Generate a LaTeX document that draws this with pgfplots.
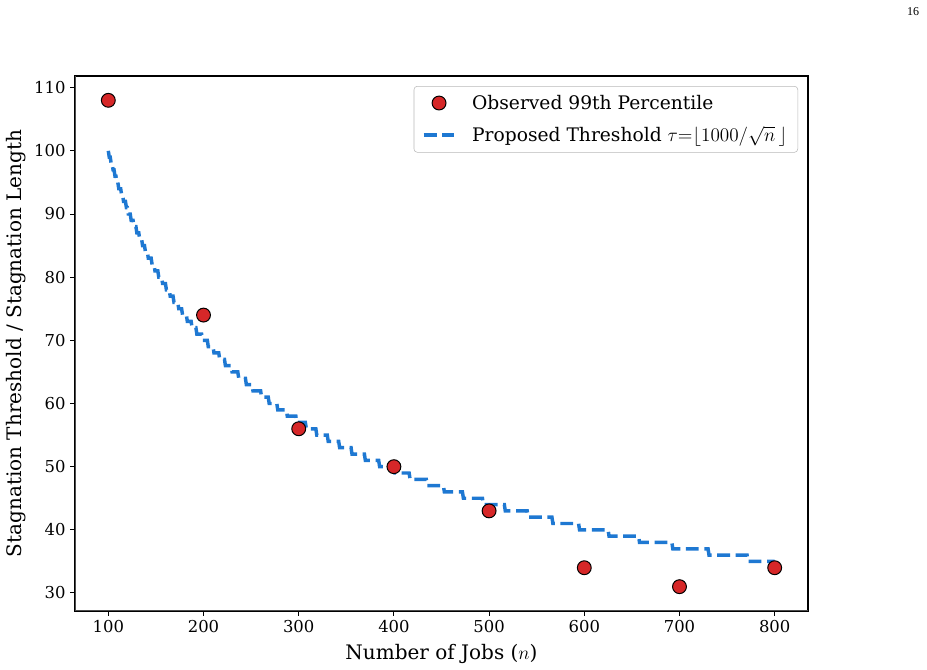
\documentclass[border=0pt]{standalone}
\usepackage{pgfplots}
\pgfplotsset{compat=1.18}
\usepackage{fontspec}
\setmainfont{DejaVu Serif}
\newfontfamily\pagefont{Liberation Serif}
\definecolor{ptred}{HTML}{D62728}
\definecolor{lineblue}{HTML}{1E78D2}
\begin{document}
\begin{tikzpicture}
\useasboundingbox (0,0) rectangle (695.25pt,502.5pt);
\node[font=\pagefont\fontsize{9}{10}\selectfont] at (684.75pt,493.5pt) {16};
\begin{axis}[
  at={(56.25pt,44.25pt)}, anchor=south west,
  scale only axis, width=549.75pt, height=401.25pt,
  xmin=65, xmax=835, ymin=27.15, ymax=111.85,
  xtick={100,200,300,400,500,600,700,800},
  ytick={30,40,50,60,70,80,90,100,110},
  xtick pos=bottom, ytick pos=left,
  tick align=outside, major tick length=3.6pt,
  tick style={black, line width=0.75pt},
  axis line style={black, line width=0.9pt},
  /pgf/number format/assume math mode=true,
  ticklabel style={font=\fontsize{12.3}{14}\selectfont},
  label style={font=\fontsize{15}{17}\selectfont},
  xlabel={Number of Jobs ($n$)},
  ylabel={Stagnation Threshold / Stagnation Length},
  xlabel style={at={(axis description cs:0.5,-0.0804)}, anchor=center},
  ylabel style={at={(axis description cs:-0.0805,0.5)}, anchor=center},
  legend style={at={(axis description cs:0.9864,0.9813)}, anchor=north east,
    draw=gray!55, rounded corners=2.5pt, fill=white,
    font=\fontsize{14}{16}\selectfont, inner xsep=6pt, inner ysep=4.5pt,
    row sep=7.5pt, /tikz/every odd column/.append style={column sep=10pt}},
  legend cell align=left,
]
\addlegendimage{legend image code/.code={\draw[mark=*, mark size=5.2pt, mark options={fill=ptred,draw=black,line width=0.75pt}] plot coordinates {(11.5pt,0pt)};}}
\addlegendentry{Observed 99th Percentile}
\addlegendimage{legend image code/.code={\draw[lineblue, line width=2.6pt, dash pattern=on 9.6pt off 4.2pt] (0pt,0pt) -- (23pt,0pt);}}
\addlegendentry{Proposed Threshold $\tau{=}\lfloor 1000/\sqrt{n}\,\rfloor$}
\addplot[forget plot, lineblue, line width=2.6pt, dash pattern=on 9.6pt off 4.2pt] coordinates {
(100,100)
(101,99)(102,99)
(103,98)(104,98)
(105,97)(106,97)
(107,96)(108,96)
(109,95)(110,95)
(111,94)(113,94)
(114,93)(115,93)
(116,92)(118,92)
(119,91)(120,91)
(121,90)(123,90)
(124,89)(126,89)
(127,88)(129,88)
(130,87)(132,87)
(133,86)(135,86)
(136,85)(138,85)
(139,84)(141,84)
(142,83)(145,83)
(146,82)(148,82)
(149,81)(152,81)
(153,80)(156,80)
(157,79)(160,79)
(161,78)(164,78)
(165,77)(168,77)
(169,76)(173,76)
(174,75)(177,75)
(178,74)(182,74)
(183,73)(187,73)
(188,72)(192,72)
(193,71)(198,71)
(199,70)(204,70)
(205,69)(210,69)
(211,68)(216,68)
(217,67)(222,67)
(223,66)(229,66)
(230,65)(236,65)
(237,64)(244,64)
(245,63)(251,63)
(252,62)(260,62)
(261,61)(268,61)
(269,60)(277,60)
(278,59)(287,59)
(288,58)(297,58)
(298,57)(307,57)
(308,56)(318,56)
(319,55)(330,55)
(331,54)(342,54)
(343,53)(355,53)
(356,52)(369,52)
(370,51)(384,51)
(385,50)(400,50)
(401,49)(416,49)
(417,48)(434,48)
(435,47)(452,47)
(453,46)(472,46)
(473,45)(493,45)
(494,44)(516,44)
(517,43)(540,43)
(541,42)(566,42)
(567,41)(594,41)
(595,40)(625,40)
(626,39)(657,39)
(658,38)(692,38)
(693,37)(730,37)
(731,36)(771,36)
(772,35)(800,35)
};
\addplot[forget plot, only marks, mark=*, mark size=5.2pt, mark options={fill=ptred, draw=black, line width=0.75pt}] coordinates {
(100,108) (200,74) (300,56) (400,50) (500,43) (600,34) (700,31) (800,34)
};
\draw[gray!60!black, line width=1pt] (rel axis cs:0,1) -- (rel axis cs:0,0) -- (rel axis cs:1,0);
\end{axis}
\end{tikzpicture}
\end{document}
